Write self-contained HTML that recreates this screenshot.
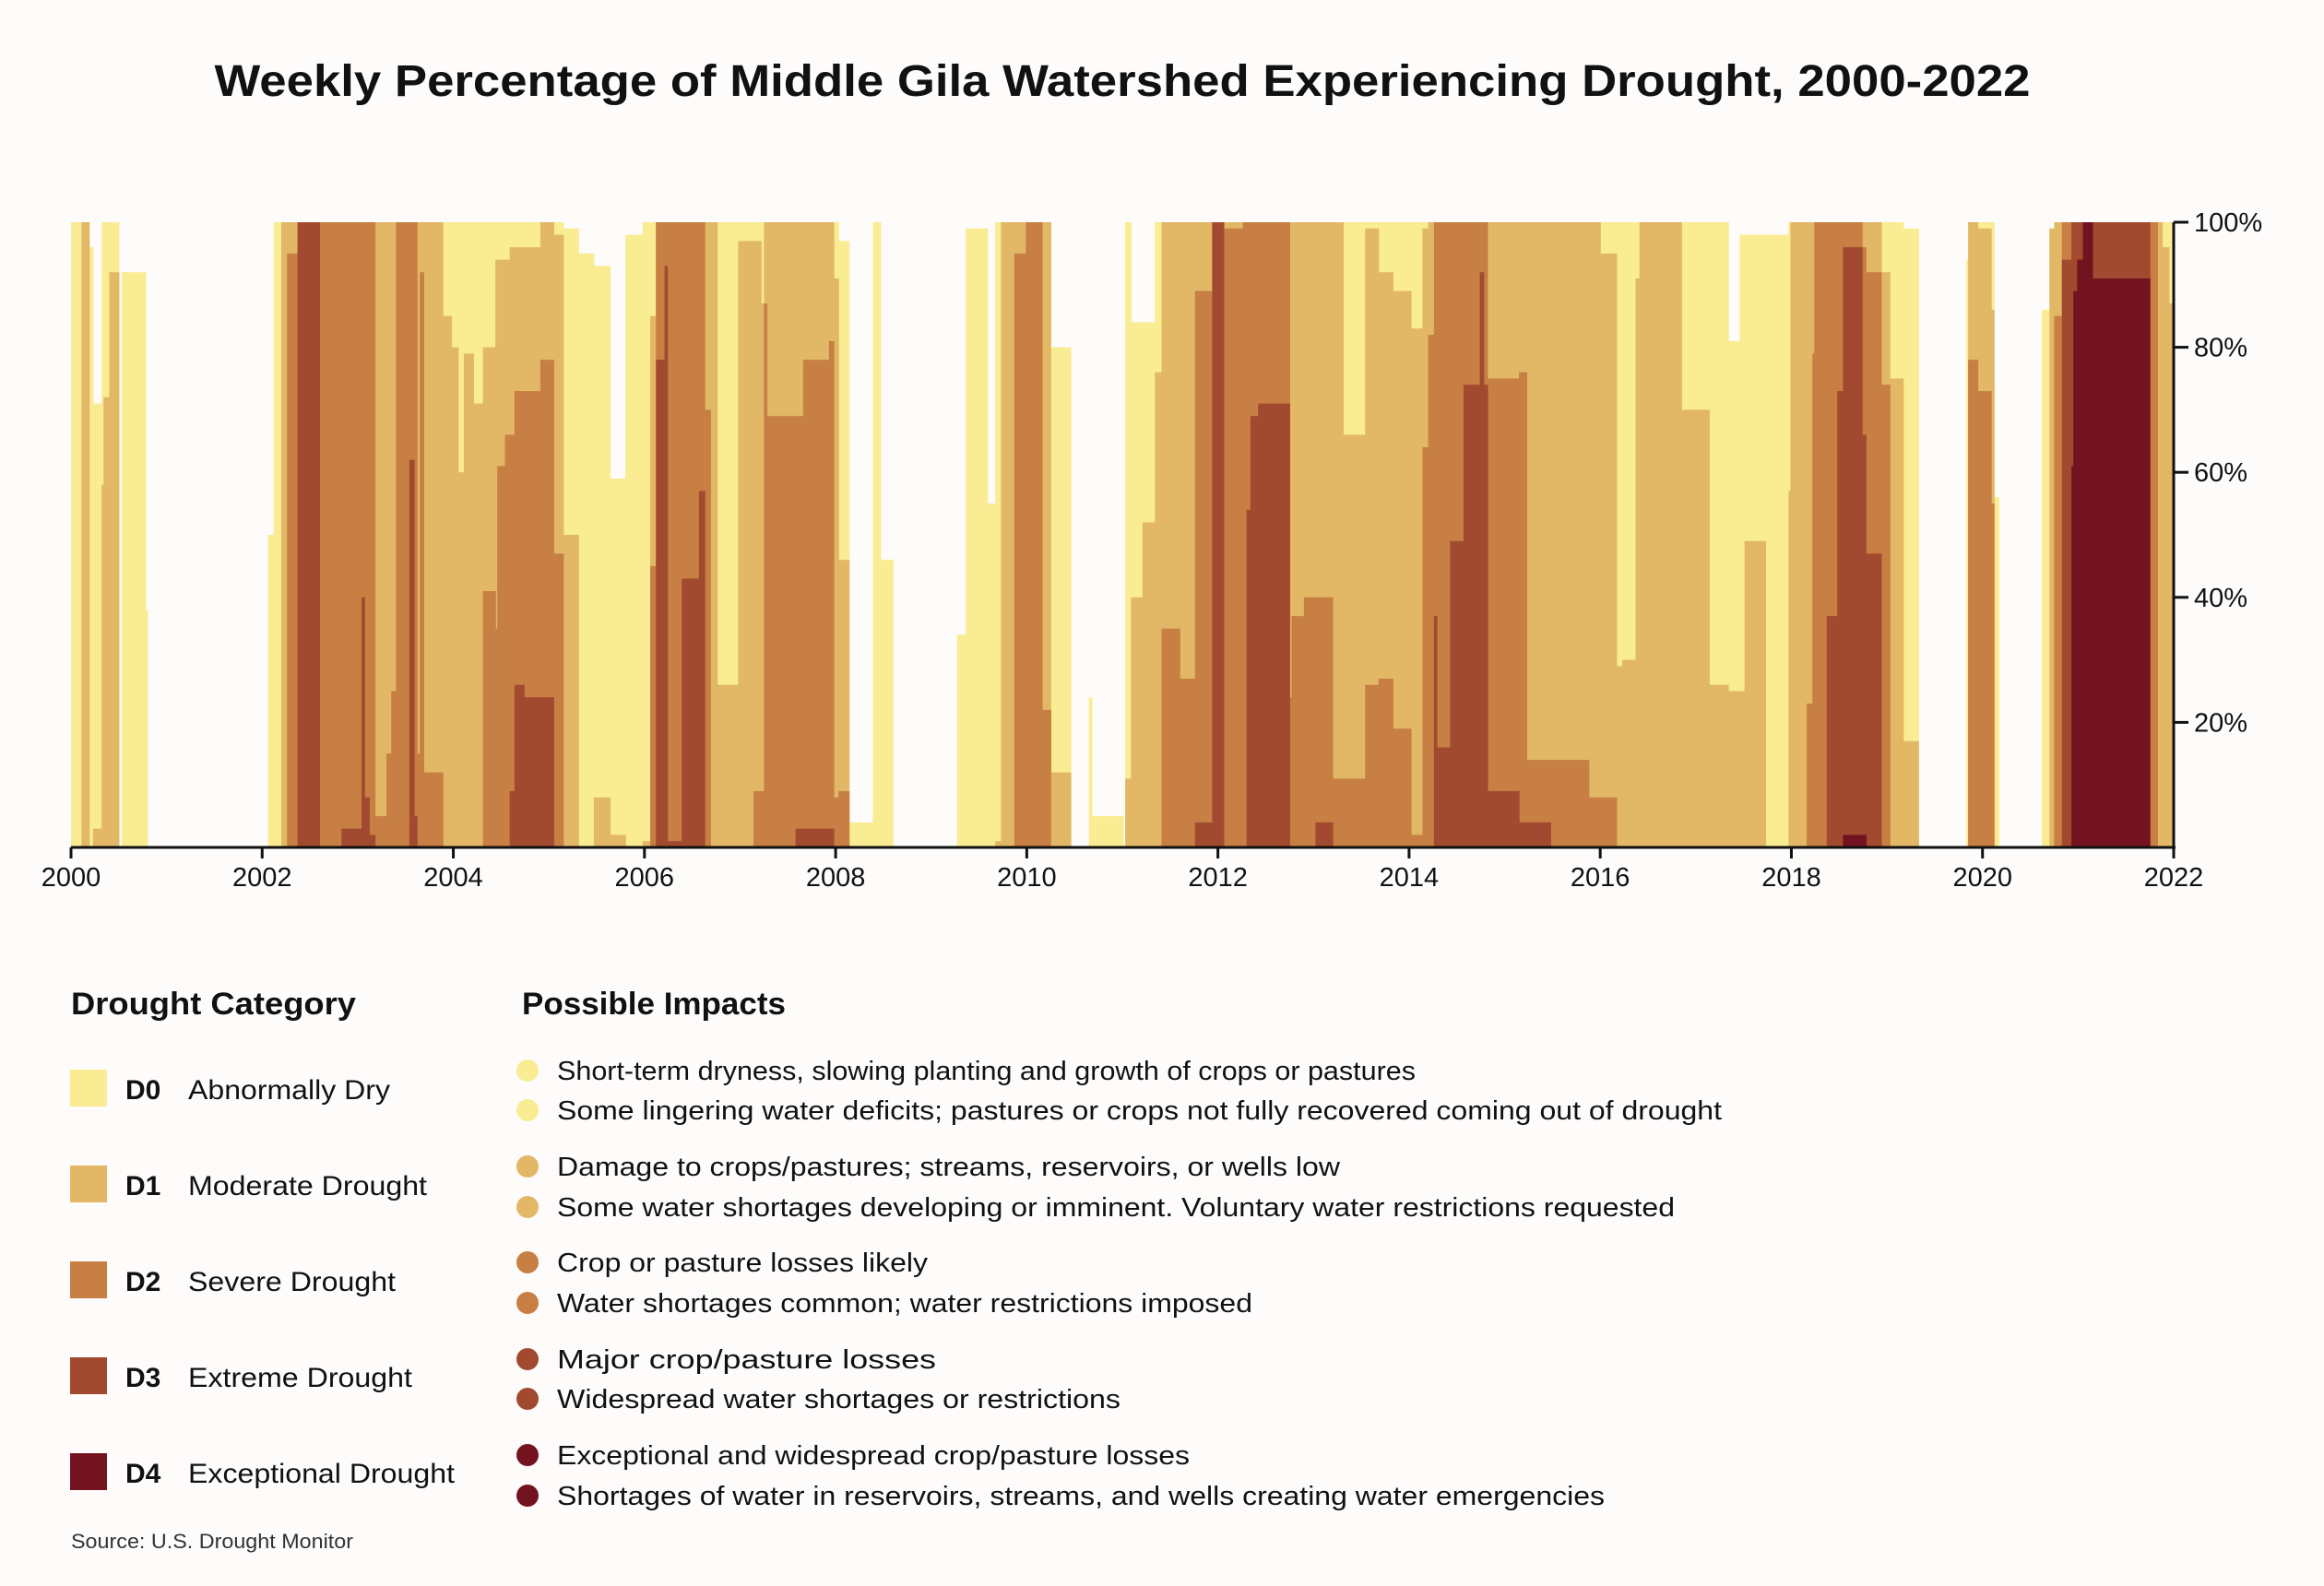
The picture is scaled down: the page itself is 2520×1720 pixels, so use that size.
<!DOCTYPE html>
<html><head><meta charset="utf-8"><title>Middle Gila Drought</title>
<style>
html,body{margin:0;padding:0;background:#fefbfb;}
svg{display:block;font-family:"Liberation Sans",Arial,sans-serif;}
</style></head>
<body>
<svg id="chart" width="2520" height="1720" viewBox="0 0 2520 1720" xmlns="http://www.w3.org/2000/svg">
<rect x="0" y="0" width="2520" height="1720" fill="#fefbfb"/>
<text x="1217" y="104" text-anchor="middle" font-size="48" font-weight="bold" fill="#111" textLength="1969" lengthAdjust="spacingAndGlyphs">Weekly Percentage of Middle Gila Watershed Experiencing Drought, 2000-2022</text>
<g id="marks"></g>
<g id="axes"></g>

<text x="77" y="1100" font-size="34" font-weight="bold" fill="#111" textLength="309" lengthAdjust="spacingAndGlyphs">Drought Category</text>
<text x="566" y="1100" font-size="34" font-weight="bold" fill="#111" textLength="286" lengthAdjust="spacingAndGlyphs">Possible Impacts</text>

<g>
<rect x="76" y="1160" width="40" height="40" fill="#f9ec93"/>
<text x="136" y="1192" font-size="30" font-weight="bold" fill="#111">D0</text>
<text x="204" y="1192" font-size="30" fill="#111" textLength="219" lengthAdjust="spacingAndGlyphs">Abnormally Dry</text></g>
<g>
<rect x="76" y="1264" width="40" height="40" fill="#e2b866"/>
<text x="136" y="1296" font-size="30" font-weight="bold" fill="#111">D1</text>
<text x="204" y="1296" font-size="30" fill="#111" textLength="259" lengthAdjust="spacingAndGlyphs">Moderate Drought</text></g>
<g>
<rect x="76" y="1368" width="40" height="40" fill="#c77f44"/>
<text x="136" y="1400" font-size="30" font-weight="bold" fill="#111">D2</text>
<text x="204" y="1400" font-size="30" fill="#111" textLength="225" lengthAdjust="spacingAndGlyphs">Severe Drought</text></g>
<g>
<rect x="76" y="1472" width="40" height="40" fill="#a24a2f"/>
<text x="136" y="1504" font-size="30" font-weight="bold" fill="#111">D3</text>
<text x="204" y="1504" font-size="30" fill="#111" textLength="243" lengthAdjust="spacingAndGlyphs">Extreme Drought</text></g>
<g>
<rect x="76" y="1576" width="40" height="40" fill="#741320"/>
<text x="136" y="1608" font-size="30" font-weight="bold" fill="#111">D4</text>
<text x="204" y="1608" font-size="30" fill="#111" textLength="289" lengthAdjust="spacingAndGlyphs">Exceptional Drought</text></g>

<g font-size="29" fill="#111">
<circle cx="572" cy="1161" r="12" fill="#f9ec93"/><text x="604" y="1171" textLength="931" lengthAdjust="spacingAndGlyphs">Short-term dryness, slowing planting and growth of crops or pastures</text>
<circle cx="572" cy="1204" r="12" fill="#f9ec93"/><text x="604" y="1214" textLength="1263" lengthAdjust="spacingAndGlyphs">Some lingering water deficits; pastures or crops not fully recovered coming out of drought</text>
<circle cx="572" cy="1265" r="12" fill="#e2b866"/><text x="604" y="1275" textLength="849" lengthAdjust="spacingAndGlyphs">Damage to crops/pastures; streams, reservoirs, or wells low</text>
<circle cx="572" cy="1309" r="12" fill="#e2b866"/><text x="604" y="1319" textLength="1212" lengthAdjust="spacingAndGlyphs">Some water shortages developing or imminent. Voluntary water restrictions requested</text>
<circle cx="572" cy="1369" r="12" fill="#c77f44"/><text x="604" y="1379" textLength="402" lengthAdjust="spacingAndGlyphs">Crop or pasture losses likely</text>
<circle cx="572" cy="1413" r="12" fill="#c77f44"/><text x="604" y="1423" textLength="754" lengthAdjust="spacingAndGlyphs">Water shortages common; water restrictions imposed</text>
<circle cx="572" cy="1474" r="12" fill="#a24a2f"/><text x="604" y="1484" textLength="411" lengthAdjust="spacingAndGlyphs">Major crop/pasture losses</text>
<circle cx="572" cy="1517" r="12" fill="#a24a2f"/><text x="604" y="1527" textLength="611" lengthAdjust="spacingAndGlyphs">Widespread water shortages or restrictions</text>
<circle cx="572" cy="1578" r="12" fill="#741320"/><text x="604" y="1588" textLength="686" lengthAdjust="spacingAndGlyphs">Exceptional and widespread crop/pasture losses</text>
<circle cx="572" cy="1622" r="12" fill="#741320"/><text x="604" y="1632" textLength="1136" lengthAdjust="spacingAndGlyphs">Shortages of water in reservoirs, streams, and wells creating water emergencies</text>
</g>
<text x="77" y="1679" font-size="22" fill="#333" textLength="306" lengthAdjust="spacingAndGlyphs">Source: U.S. Drought Monitor</text>
</svg>
<script>
// segment start (decimal year); each segment runs to the next start (last to 2022)
const segStart=[2000.00,2000.11,2000.19,2000.23,2000.32,2000.34,2000.40,2000.50,2000.53,2000.78,2000.80,
2002.06,2002.12,2002.20,2002.26,2002.37,2002.60,2002.83,2003.04,2003.07,2003.12,2003.18,2003.30,2003.35,2003.40,2003.54,2003.59,2003.62,2003.65,2003.69,2003.89,2003.98,2004.05,2004.11,2004.21,2004.31,2004.44,2004.46,2004.54,2004.59,2004.64,2004.74,2004.91,2005.05,2005.15,2005.31,2005.47,2005.64,2005.80,2005.98,
2006.06,2006.12,2006.21,2006.24,2006.39,2006.57,2006.63,2006.69,2006.76,2006.98,2007.14,2007.22,2007.25,2007.28,2007.58,2007.66,2007.93,2007.98,2008.03,2008.14,2008.39,2008.47,2008.60,
2009.27,2009.36,2009.59,2009.67,2009.73,2009.87,2009.99,2010.16,2010.25,2010.46,2010.65,2010.68,2011.01,2011.03,2011.09,2011.21,2011.34,2011.41,2011.60,2011.76,2011.94,
2012.06,2012.26,2012.30,2012.34,2012.42,2012.75,2012.77,2012.90,2013.02,2013.20,2013.31,2013.54,2013.68,2013.83,2014.02,2014.14,2014.20,2014.26,2014.29,2014.43,2014.57,2014.74,2014.78,2014.82,2015.15,2015.23,2015.48,2015.88,2016.00,2016.17,2016.23,2016.37,2016.41,2016.85,2017.14,2017.34,2017.46,2017.51,2017.73,2017.97,2017.99,
2018.16,2018.22,2018.24,2018.37,2018.48,2018.54,2018.74,2018.78,2018.94,2019.03,2019.17,2019.33,2019.83,2019.85,2019.95,2020.09,2020.12,2020.17,2020.62,2020.70,2020.75,2020.83,2020.93,2020.95,2020.99,2021.05,2021.15,2021.75,2021.83,2021.88,2021.95];
const d0=[100,100,96,71,100,100,100,0,92,38,0,
50,100,100,100,100,100,100,100,100,100,100,100,100,100,100,100,100,100,100,100,100,100,100,100,100,100,100,100,100,100,100,100,100,99,95,93,59,98,100,
100,100,100,100,100,100,100,100,100,100,100,100,100,100,100,100,100,100,97,4,100,46,0,
34,99,55,100,100,100,100,100,80,0,24,5,0,100,84,84,100,100,100,100,100,
100,100,100,100,100,100,100,100,100,100,100,100,100,100,100,100,100,100,100,100,100,100,100,100,100,100,100,100,100,100,100,100,100,100,100,81,98,98,98,100,100,
100,100,100,100,100,100,100,100,100,100,99,0,94,100,100,100,56,0,86,99,100,100,100,100,100,100,100,100,100,100,100];
const d1=[0,100,0,3,58,72,92,0,0,0,0,
0,0,100,100,100,100,100,100,100,100,100,100,100,100,100,100,100,100,100,85,80,60,79,71,80,94,94,94,96,96,96,100,98,50,0,8,2,0,1,
85,100,100,100,100,100,100,100,26,97,97,87,100,100,100,100,100,91,46,0,0,0,0,
0,0,0,1,100,100,100,100,12,0,0,0,0,11,40,52,76,100,100,100,100,
100,100,100,100,100,100,100,100,100,100,66,99,92,89,83,99,100,100,100,100,100,100,100,100,100,100,100,100,95,29,30,91,100,70,26,25,25,49,0,57,100,
100,100,100,100,100,100,100,100,92,75,17,0,0,100,99,86,0,0,0,99,100,100,100,100,100,100,100,100,100,96,87];
const d2=[0,0,0,0,0,0,0,0,0,0,0,
0,0,0,95,100,100,100,100,100,100,5,15,25,100,100,100,15,92,12,0,0,0,0,0,41,35,61,66,66,73,73,78,47,0,0,0,0,0,0,
45,100,100,100,100,100,70,0,0,0,9,9,87,69,69,78,81,8,9,0,0,0,0,
0,0,0,0,0,95,100,22,0,0,0,0,0,0,0,0,0,35,27,89,100,
99,100,100,100,100,24,37,40,40,11,11,26,27,19,2,64,82,100,100,100,100,100,100,75,76,14,14,8,8,0,0,0,0,0,0,0,0,0,0,0,0,
23,79,100,100,100,100,96,92,74,0,0,0,0,78,73,55,0,0,0,0,85,100,100,100,100,100,100,100,0,0,0];
const d3=[0,0,0,0,0,0,0,0,0,0,0,
0,0,0,0,100,0,3,40,8,2,0,0,0,0,62,5,0,0,0,0,0,0,0,0,0,0,0,0,9,26,24,24,0,0,0,0,0,0,0,
0,78,93,1,43,57,0,0,0,0,0,0,0,0,3,3,3,0,0,0,0,0,0,
0,0,0,0,0,0,0,0,0,0,0,0,0,0,0,0,0,0,0,4,100,
0,0,54,69,71,0,0,0,4,0,0,0,0,0,0,0,0,37,16,49,74,92,74,9,4,4,0,0,0,0,0,0,0,0,0,0,0,0,0,0,0,
0,0,0,37,73,96,66,47,0,0,0,0,0,0,0,0,0,0,0,0,0,94,100,100,100,100,100,0,0,0,0];
const d4=[0,0,0,0,0,0,0,0,0,0,0,
0,0,0,0,0,0,0,0,0,0,0,0,0,0,0,0,0,0,0,0,0,0,0,0,0,0,0,0,0,0,0,0,0,0,0,0,0,0,0,
0,0,0,0,0,0,0,0,0,0,0,0,0,0,0,0,0,0,0,0,0,0,0,
0,0,0,0,0,0,0,0,0,0,0,0,0,0,0,0,0,0,0,0,0,
0,0,0,0,0,0,0,0,0,0,0,0,0,0,0,0,0,0,0,0,0,0,0,0,0,0,0,0,0,0,0,0,0,0,0,0,0,0,0,0,0,
0,0,0,0,0,2,2,0,0,0,0,0,0,0,0,0,0,0,0,0,0,0,61,89,94,100,91,0,0,0,0];
const xTickYears=[2000,2002,2004,2006,2008,2010,2012,2014,2016,2018,2020,2022];
const yTickValues=[20,40,60,80,100];
const yTickLabels=["20%","40%","60%","80%","100%"];
const categoryNames=["D0","D1","D2","D3","D4"];

const NS="http://www.w3.org/2000/svg";
const X0=77,X1=2357,Y0=919,Y1=241,YEAR0=2000,YEAR1=2022;
function xScale(yr){return X0+(yr-YEAR0)*(X1-X0)/(YEAR1-YEAR0);}
function yScale(p){return Y0-p*(Y0-Y1)/100;}
const colors=["#f9ec93","#e2b866","#c77f44","#a24a2f","#741320"];
const series=[d0,d1,d2,d3,d4];
const marks=document.getElementById('marks');
for(let k=0;k<5;k++){
  const g=document.createElementNS(NS,'g');
  
  
  g.setAttribute('fill',colors[k]);
  for(let i=0;i<segStart.length;i++){
    const v=series[k][i];
    if(!v) continue;
    const xa=xScale(segStart[i]);
    const xb=xScale(i+1<segStart.length?segStart[i+1]:YEAR1);
    const r=document.createElementNS(NS,'rect');
    
    
    r.setAttribute('x',xa.toFixed(2));
    r.setAttribute('width',(xb-xa+0.6).toFixed(2));
    r.setAttribute('y',yScale(v).toFixed(2));
    r.setAttribute('height',(Y0-yScale(v)).toFixed(2));
    g.appendChild(r);
  }
  marks.appendChild(g);
}
const axes=document.getElementById('axes');
function line(x1,y1,x2,y2,name){
  const l=document.createElementNS(NS,'line');
  
  
  l.setAttribute('x1',x1);l.setAttribute('y1',y1);l.setAttribute('x2',x2);l.setAttribute('y2',y2);
  l.setAttribute('stroke','#111');l.setAttribute('stroke-width','3');
  axes.appendChild(l);
}
line(X0,Y0,X1+2,Y0,'x-axis-line');
line(X1,Y1,X1,Y0,'y-axis-line');
xTickYears.forEach(yr=>{
  const x=xScale(yr);
  line(x,Y0,x,Y0+12,'x-tick');
  const t=document.createElementNS(NS,'text');
  
  
  t.setAttribute('x',x);t.setAttribute('y',Y0+42);
  t.setAttribute('text-anchor','middle');t.setAttribute('font-size','29');t.setAttribute('fill','#111');
  t.textContent=String(yr);
  axes.appendChild(t);
});
yTickValues.forEach((v,i)=>{
  const y=yScale(v);
  line(X1,y,X1+16,y,'y-tick');
  const t=document.createElementNS(NS,'text');
  
  
  t.setAttribute('x',X1+22);t.setAttribute('y',y+10);
  t.setAttribute('font-size','29');t.setAttribute('fill','#111');
  t.textContent=yTickLabels[i];
  axes.appendChild(t);
});
</script>
</body></html>
